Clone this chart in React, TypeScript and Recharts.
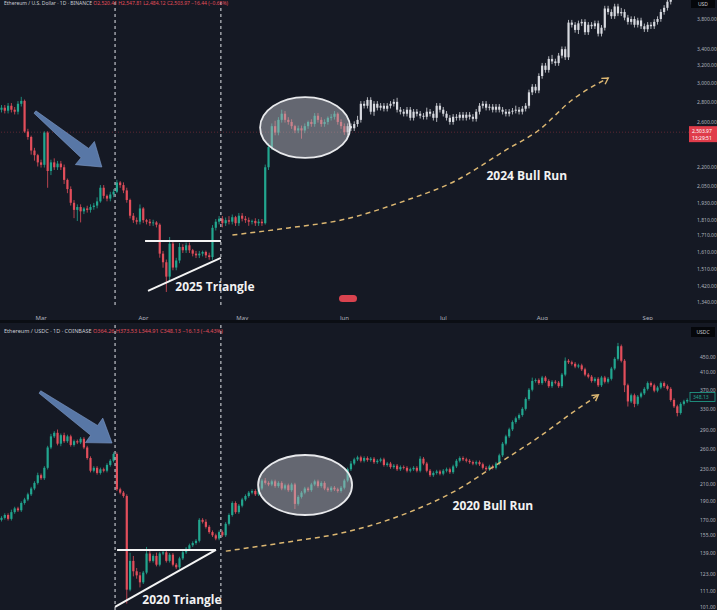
import {
  Bar,
  ComposedChart,
  Line,
  ReferenceArea,
  ReferenceDot,
  ReferenceLine,
  XAxis,
  YAxis,
} from "recharts"

// ---- data ----

const MONTHS = ["Mar", "Apr", "May", "Jun", "Jul", "Aug", "Sep"]
const MONTH_INDEX = [12, 43, 73, 104, 134, 164, 196]

// 2025 daily closes (ETH/USD), red/green candles
const CLOSE_2025 = [
  2740, 2710, 2760, 2720, 2700, 2780, 2810, 2510, 2460, 2340,
  2300, 2240, 2220, 2500, 2170, 2240, 2200, 2230, 2200, 2100,
  2030, 1930, 1880, 1900, 1870, 1890, 1880, 1900, 1910, 1940,
  2040, 1980, 1960, 1990, 2010, 2080, 2060, 2020, 1950, 1840,
  1810, 1800, 1890, 1810, 1800, 1790, 1795, 1780, 1600, 1550,
  1470, 1660, 1520, 1560, 1640, 1620, 1650, 1620, 1600, 1590,
  1600, 1610, 1590, 1580, 1760, 1800, 1820, 1790, 1810, 1800,
  1830, 1790, 1840, 1820, 1810, 1800, 1805, 1790, 1800, 1790,
  2200, 2370, 2560, 2500, 2620, 2680, 2620, 2600, 2560, 2520,
  2540, 2520, 2560, 2600, 2580, 2660, 2620, 2580, 2600, 2640,
  2650, 2680, 2600, 2560, 2504,
]

// 2024 overlay closes (white candles)
const CLOSE_2024 = [
  2560, 2540, 2580, 2620, 2780, 2760, 2820, 2700, 2780, 2740,
  2760, 2730, 2760, 2780, 2800, 2720, 2700, 2680, 2720, 2640,
  2700, 2680, 2660, 2650, 2700, 2680, 2640, 2760, 2720, 2680,
  2640, 2600, 2650, 2640, 2670, 2640, 2670, 2650, 2630, 2700,
  2760, 2780, 2740, 2750, 2720, 2750, 2720, 2700, 2680, 2700,
  2710, 2720, 2700, 2730, 2760, 2900, 2960, 2920, 3080, 3200,
  3150, 3280, 3250, 3230, 3320, 3400, 3300, 3750, 3720, 3650,
  3740, 3760, 3620, 3720, 3700, 3740, 3600, 3680, 3950, 3900,
  3840, 3980, 3880, 3900, 3820, 3760, 3800, 3720, 3780, 3700,
  3660, 3720, 3700, 3760, 3800, 3900, 3960, 4050, 4100,
]

// wick sizes in % beyond the body, top panel
const TOP_WICK_UP = [
  1, 1, 1, 1, 1, 1, 1.5, 0.5, 1, 0.5,
  1, 0.5, 1, 0.5, 0.5, 1, 1.5, 1, 1, 1,
  0.5, 1, 1, 1, 1, 0.5, 1, 1, 1, 1.5,
  1, 1, 0.5, 1, 1, 1, 0.5, 1, 1, 0.5,
  1, 1, 1.5, 0.5, 0.5, 1, 1, 0.5, 0.5, 1,
  1, 2.5, 1, 1, 1.5, 1, 1, 1, 0.5, 1,
  1, 0.5, 0.5, 1, 1, 1, 1, 1, 1, 1.5,
  1, 0.5, 1, 1, 1, 1, 0.5, 1, 1, 1,
  1, 1.5, 1, 2, 1, 1.5, 1, 1, 1, 0.5,
  1, 1, 1, 0.5, 1, 1, 1, 1, 1, 0.5,
  1, 1, 0.5, 1, 1, 1, 1, 1, 1.5, 1,
  1, 1, 1, 1, 1, 1, 1, 1, 1, 1,
  1.5, 1, 1, 1, 1, 1, 1, 1, 1, 1.5,
  1, 1, 1, 1, 1, 1, 1, 1, 1, 1,
  1, 1, 1, 1, 1, 1, 1, 1, 1, 1,
  1, 1, 1, 1, 1, 1, 1.5, 1, 1, 1,
  1, 1, 1, 1, 1, 1, 1, 1.5, 1, 1,
  1, 1, 1, 1, 1, 1, 1, 1, 1, 1,
  1, 1, 1, 1, 1, 1, 1, 1, 1.5, 1,
  1, 1, 1, 1, 1, 1, 1, 1, 1, 1,
  1, 1, 1, 1,
]
const TOP_WICK_DOWN = [
  1, 1, 1, 1, 1, 1, 1, 0.5, 1, 1.5,
  2, 1.5, 1, 1, 6, 1.5, 1, 1, 1, 1.5,
  1.5, 1, 3, 4, 4, 1, 1, 1, 1, 1,
  0.5, 1, 1, 1, 1, 0.5, 1, 1, 1, 1,
  1, 1, 1, 1, 1, 1, 1, 1, 1.5, 2,
  5.5, 2, 1, 1, 1, 1, 1, 1, 1, 1,
  1, 1, 1, 1, 1, 1, 1, 1.5, 1, 1,
  1, 1, 1, 1, 1, 1.5, 1, 1, 1, 1,
  0.5, 1, 1, 1, 1, 1, 1, 1, 1, 1,
  1, 3, 1, 1, 1, 1, 1, 1, 1, 1,
  1, 1, 1, 1, 1, 1, 1, 1, 1, 1,
  1, 1, 1, 1.5, 1, 1, 1, 1, 1, 1,
  1, 1, 1, 1, 1, 1, 1, 1, 1, 1,
  1, 1, 1.5, 1, 1, 1, 1, 1, 1, 1,
  1, 1, 1, 1, 1, 1, 1, 1, 1, 1,
  1, 1, 1, 1, 1, 1, 1, 1, 1, 1,
  1, 1, 1, 1, 1, 1, 1, 1, 1, 1,
  1, 1, 1, 1, 1, 1.5, 1, 1, 1, 1,
  1, 1, 1, 1, 1, 1, 1, 1, 1, 1,
  1, 1, 1, 1, 1, 1, 1, 1, 1, 1,
  1, 1, 1, 1,
]

// 2020 daily closes (ETH/USDC)
const CLOSE_2020 = [
  172, 175, 171, 178, 182, 180, 188, 192, 198, 205,
  212, 222, 218, 232, 262, 280, 286, 268, 282, 272,
  280, 266, 272, 270, 276, 262, 246, 228, 232, 225,
  230, 228, 236, 242, 252, 204, 200, 196, 112, 133,
  125, 122, 117, 124, 139, 133, 137, 130, 139, 140,
  133, 138, 130, 128, 135, 140, 143, 146, 148, 150,
  170, 168, 163, 158, 155, 152, 158, 155, 166, 175,
  188, 178, 185, 192, 196, 200, 202, 198, 205, 215,
  212, 210, 214, 208, 212, 205, 209, 203, 210, 187,
  195, 200, 205, 203, 210, 214, 208, 212, 205, 203,
  206, 204, 202, 206, 215, 230, 238, 244, 247, 242,
  246, 243, 245, 240, 242, 244, 236, 238, 233, 235,
  230, 233, 232, 228, 230, 232, 228, 245, 238, 228,
  222, 225, 227, 224, 228, 230, 226, 234, 242, 246,
  244, 242, 240, 238, 240, 237, 232, 230, 234, 232,
  238, 250, 268, 280, 292, 305, 312, 318, 330, 350,
  370, 390, 392, 385, 398, 390, 378, 388, 386, 378,
  405, 440, 436, 432, 425, 428, 418, 405, 400, 390,
  395, 380, 398, 388, 395, 420, 445, 480, 440, 380,
  345, 358, 340, 355, 362, 372, 385, 380, 368, 375,
  385, 378, 372, 348, 335, 322, 340, 345, 348,
]
const BOT_WICK_UP = [
  1, 1, 1, 1.5, 1, 1, 1, 1, 1, 1,
  1, 1.5, 1, 1, 1, 1.5, 1, 2, 1, 1.5,
  1, 1, 1, 1, 1, 1, 1, 1, 1, 1,
  1, 1, 1, 1, 1, 1, 1, 1, 1, 5,
  3, 2, 2, 1, 4, 2, 1, 2, 1, 1,
  1, 1, 1, 1, 1, 1, 1, 1, 1, 1,
  1, 1, 1.5, 1, 1, 1, 1, 1, 1, 1,
  1, 1, 1, 1, 1, 1, 1, 1, 1, 1,
  1.5, 1, 1, 1, 1, 1, 1, 1, 1, 1,
  1, 1, 1, 1, 1, 1, 1, 1, 1, 1,
  1, 1, 1, 1, 1, 1, 1.5, 1, 1, 1,
  1, 1, 1, 1, 1, 1, 1, 1, 1, 1,
  1, 1, 1, 1, 1, 1, 1, 1.5, 1, 1,
  1, 1, 1, 1, 1, 1, 1, 1, 1, 1,
  1, 1, 1, 1, 1, 1, 1, 1, 1, 1,
  1, 1, 1, 1, 1, 1, 1, 1, 1, 1,
  1, 2, 1, 1, 1, 1, 1, 1, 1, 1,
  1, 2, 1, 1, 1, 1, 1, 1, 1, 1,
  1, 1, 1, 1, 1, 1, 1, 2, 1, 1,
  1, 1, 1, 1, 1, 1, 1, 1, 1, 1,
  1, 1, 1, 1, 1, 1, 1, 1, 1,
]
const BOT_WICK_DOWN = [
  1, 1, 1, 1, 1, 1, 1, 1, 1, 1,
  1, 1, 1, 1, 1, 1, 1, 1, 1.5, 1,
  1, 1, 1, 1, 1, 1, 1, 1, 1, 1,
  1, 1, 1, 1, 1, 1, 1, 1, 8, 1,
  3, 2, 3, 1, 1, 1, 1, 1, 1, 1,
  1, 1, 1, 1, 1, 1, 1, 1, 1, 1,
  1, 1, 1, 1, 1, 1, 1, 1, 1, 1,
  1, 1, 1, 1, 1, 1, 1, 1, 1, 1,
  1, 1, 1, 1, 1, 1, 1, 1, 1, 3,
  1, 1, 1, 1, 1, 1, 1, 1, 1, 1,
  1, 1, 1, 1, 1, 1, 1, 1, 1, 1,
  1, 1, 1, 1, 1, 1, 1, 1, 1, 1,
  1, 1, 1, 1, 1, 1, 1, 1, 1, 1,
  1, 1, 1, 1, 1, 1, 1, 1, 1, 1,
  1, 1, 1, 1, 1, 1, 1, 1, 1, 1,
  1, 1, 1, 1, 1, 1, 1, 1, 1, 1,
  1, 1, 1, 1, 1, 1, 1, 1, 1, 1,
  1, 1, 1, 1, 1, 1, 1, 1, 1, 1,
  1, 1, 1, 1, 1, 1, 1, 1, 1, 4,
  3, 1, 2, 1, 1, 1, 1, 1, 1, 1,
  1, 1, 1, 1, 1, 2, 1, 1, 1,
]

// dashed "bull run" guide curves (candle index / price)
const TREND_TOP_AT = [70, 87, 103, 123, 137, 153, 163, 173, 184]
const TREND_TOP_PRICE = [1714, 1759, 1811, 1950, 2084, 2345, 2524, 2819, 3057]
const TREND_BOT_AT = [68, 87, 103, 123, 138, 151, 163, 173, 181]
const TREND_BOT_PRICE = [141, 149, 157, 177, 203, 239, 279, 322, 359]

const TOP_TICKS = [1340, 1420, 1510, 1610, 1710, 1810, 1930, 2050, 2200, 2600, 2800, 3000, 3200, 3400, 3800]
const BOT_TICKS = [101, 111, 123, 139, 155, 170, 190, 210, 230, 260, 290, 330, 370, 410, 450]

const LAST_2025 = 2503.97
const LAST_2020 = 348.13

// ---- styling ----
const BG = "#151924"
const GREEN = "#22a68f"
const RED = "#e24e5b"
const GHOST = "#d8dae0"
const AXIS = "#aeb2bd"
const TREND = "#dcb772"
const N_SLOTS = 209

type Candle = {
  i: number
  open: number
  close: number
  high: number
  low: number
  range: [number, number]
  ghost: boolean
  trend: number | null
}

function makeCandles(closes: number[], firstOpen: number, up: number[], down: number[], start: number, ghost: boolean): Candle[] {
  return closes.map((c, k) => {
    const o = k === 0 ? firstOpen : closes[k - 1]
    const hi = Math.max(o, c) * (1 + up[k] / 100)
    const lo = Math.min(o, c) * (1 - down[k] / 100)
    return { i: start + k, open: o, close: c, high: hi, low: lo, range: [lo, hi], ghost, trend: null }
  })
}

function withTrend(rows: Candle[], at: number[], prices: number[]) {
  at.forEach((idx, k) => {
    const row = rows.find((r) => r.i === idx)
    if (row) row.trend = prices[k]
  })
  return rows
}

const TOP_DATA = withTrend(
  [
    ...makeCandles(CLOSE_2025, 2720, TOP_WICK_UP.slice(0, 105), TOP_WICK_DOWN.slice(0, 105), 0, false),
    ...makeCandles(CLOSE_2024, LAST_2025, TOP_WICK_UP.slice(105), TOP_WICK_DOWN.slice(105), 105, true),
  ],
  TREND_TOP_AT,
  TREND_TOP_PRICE,
)

const BOT_DATA = withTrend(
  makeCandles(CLOSE_2020, 170, BOT_WICK_UP, BOT_WICK_DOWN, 0, false),
  TREND_BOT_AT,
  TREND_BOT_PRICE,
)

// ---- shapes ----
const CandleShape = (props: any) => {
  const { x, y, width, height, payload } = props
  if (!payload || height == null) return <g />
  const { open, close, high, low, ghost } = payload as Candle
  const lh = Math.log(high)
  const ll = Math.log(low)
  const toY = (v: number) => y + ((lh - Math.log(v)) / (lh - ll)) * height
  const cx = x + width / 2
  const top = toY(Math.max(open, close))
  const bot = toY(Math.min(open, close))
  const color = ghost ? GHOST : close >= open ? GREEN : RED
  return (
    <g>
      <line x1={cx} x2={cx} y1={y} y2={y + height} stroke={color} strokeWidth={0.8} />
      <rect x={cx - 1.1} y={top} width={2.2} height={Math.max(bot - top, 0.8)} fill={color} />
    </g>
  )
}

const ArrowShape = (props: any) => {
  const { x1, y1, x2, y2 } = props
  const dx = x2 - x1
  const dy = y2 - y1
  const L = Math.hypot(dx, dy)
  const ux = dx / L
  const uy = dy / L
  const nx = -uy
  const ny = ux
  const hb = L - 22
  const pt = (s: number, w: number) => `${x1 + ux * s + nx * w},${y1 + uy * s + ny * w}`
  const pts = [pt(0, 1.5), pt(hb, 6), pt(hb, 15), pt(L, 0), pt(hb, -15), pt(hb, -6), pt(0, -1.5)].join(" ")
  return <polygon points={pts} fill="#6284b8" fillOpacity={0.88} stroke="#7d9bc8" strokeWidth={0.6} />
}

const EllipseShape = (props: any) => {
  const { x, y, width, height } = props
  return (
    <ellipse
      cx={x + width / 2}
      cy={y + height / 2}
      rx={width / 2}
      ry={height / 2}
      fill="#b4b6bd"
      fillOpacity={0.5}
      stroke="#e8e9ec"
      strokeWidth={1.8}
    />
  )
}

const arrowHead = (angle: number) => (props: any) => {
  const { cx, cy } = props
  return (
    <path
      d="M -6 -3.5 L 0 0 L -6 3.5"
      transform={`translate(${cx},${cy}) rotate(${angle})`}
      fill="none"
      stroke={TREND}
      strokeWidth={1.4}
    />
  )
}

const textShape = (label: string) => (props: any) => (
  <text
    x={props.cx}
    y={props.cy}
    textAnchor="middle"
    dominantBaseline="central"
    fill="#f2f2f2"
    fontSize={12}
    fontWeight={700}
    fontFamily='"Open Sans", sans-serif'
  >
    {label}
  </text>
)

const topTag = (p: any) => {
  const { viewBox } = p
  const x = viewBox.x + viewBox.width
  const y = viewBox.y
  return (
    <g>
      <rect x={x} y={y - 6} width={28} height={16} fill="#e03c4a" />
      <text x={x + 3} y={y - 1.5} fontSize={5} fill="#fff" dominantBaseline="central">2,503.97</text>
      <text x={x + 3} y={y + 5.5} fontSize={5} fill="#fff" dominantBaseline="central">13:29:51</text>
    </g>
  )
}

const botTag = (p: any) => {
  const { viewBox } = p
  const x = viewBox.x + viewBox.width
  const y = viewBox.y - 3
  return (
    <g>
      <rect x={x + 1} y={y - 4.5} width={25} height={9} fill={BG} stroke={GREEN} strokeWidth={0.8} />
      <text x={x + 4} y={y} fontSize={5} fill={GREEN} dominantBaseline="central">348.13</text>
    </g>
  )
}

const fmtTop = (v: number) => v.toLocaleString("en-US", { minimumFractionDigits: 2, maximumFractionDigits: 2 })
const fmtBot = (v: number) => v.toFixed(2)

const dashLines = [34.4, 66.5]

export default function App() {
  return (
    <div
      style={{
        position: "absolute",
        left: 0,
        top: 0,
        width: 717,
        height: 610,
        overflow: "hidden",
        background: BG,
        fontFamily: '"Noto Sans", sans-serif',
      }}
    >
      <div style={{ position: "absolute", left: 0, top: 0 }}>
        <ComposedChart width={717} height={322} data={TOP_DATA} margin={{ top: 0, right: 0, bottom: 0, left: 0 }}>
          <XAxis
            dataKey="i"
            type="number"
            domain={[-0.5, N_SLOTS - 0.5]}
            ticks={MONTH_INDEX}
            tickFormatter={(v: number) => MONTHS[MONTH_INDEX.indexOf(v)] ?? ""}
            axisLine={false}
            tickLine={false}
            tickMargin={5}
            height={17}
            interval={0}
            tick={{ fill: AXIS, fontSize: 6 }}
          />
          <YAxis
            orientation="right"
            type="number"
            scale="log"
            domain={[1324, 4076]}
            allowDataOverflow
            ticks={TOP_TICKS}
            tickFormatter={fmtTop}
            interval={0}
            width={28}
            axisLine={false}
            tickLine={false}
            tickMargin={2}
            tick={{ fill: AXIS, fontSize: 5 }}
          />
          <ReferenceLine y={LAST_2025} stroke="#e0414f" strokeOpacity={0.6} strokeWidth={0.6} strokeDasharray="1 2" label={topTag} />
          {dashLines.map((x) => (
            <ReferenceLine key={x} x={x} stroke="#cfd2d8" strokeWidth={1.1} strokeDasharray="3 3" />
          ))}
          <Bar dataKey="range" barSize={3} shape={CandleShape} isAnimationActive={false} />
          <ReferenceArea x1={78.4} x2={105.7} y1={2277} y2={2850} shape={EllipseShape} zIndex={450} />
          <ReferenceLine segment={[{ x: 10.1, y: 2697 }, { x: 30.4, y: 2202 }]} shape={ArrowShape} zIndex={450} />
          <ReferenceLine segment={[{ x: 43.5, y: 1677 }, { x: 66.5, y: 1677 }]} stroke="#f4f4f4" strokeWidth={2} />
          <ReferenceLine segment={[{ x: 44.4, y: 1395 }, { x: 66.5, y: 1575 }]} stroke="#f4f4f4" strokeWidth={2} />
          <Line
            dataKey="trend"
            type="monotone"
            connectNulls
            dot={false}
            activeDot={false}
            stroke={TREND}
            strokeWidth={1.5}
            strokeDasharray="5 4"
            isAnimationActive={false}
          />
          <ReferenceDot x={184} y={3057} shape={arrowHead(-33)} />
          <ReferenceDot x={64.7} y={1416} shape={textShape("2025 Triangle")} />
          <ReferenceDot x={159.3} y={2138} shape={textShape("2024 Bull Run")} />
        </ComposedChart>
      </div>

      <div
        style={{
          position: "absolute",
          left: 0,
          top: 0,
          fontSize: 5,
          lineHeight: "7px",
          color: "#c9ccd3",
          whiteSpace: "nowrap",
          paddingLeft: 4,
        }}
      >
        Ethereum / U.S. Dollar · 1D · BINANCE{" "}
        <span style={{ color: RED }}>O2,520.41 H2,547.81 L2,484.12 C2,503.97 −16.44 (−0.65%)</span>
      </div>
      <div style={{ position: "absolute", left: 691, top: 0, width: 24, height: 8, background: "#05070b", color: "#c9ccd3", fontSize: 5, textAlign: "center", lineHeight: "8px" }}>
        USD
      </div>
      <div style={{ position: "absolute", left: 339, top: 295, width: 18, height: 7, background: "#d9434f", borderRadius: 4 }} />

      <div style={{ position: "absolute", left: 0, top: 320, width: 717, height: 3, background: "#0b0e14" }} />

      <div style={{ position: "absolute", left: 0, top: 322 }}>
        <ComposedChart width={717} height={300} data={BOT_DATA} margin={{ top: 0, right: 0, bottom: 0, left: 0 }}>
          <XAxis dataKey="i" type="number" domain={[-0.5, N_SLOTS - 0.5]} hide />
          <YAxis
            orientation="right"
            type="number"
            scale="log"
            domain={[92.3, 554.7]}
            allowDataOverflow
            ticks={BOT_TICKS}
            tickFormatter={fmtBot}
            interval={0}
            width={28}
            axisLine={false}
            tickLine={false}
            tickMargin={5}
            tick={{ fill: AXIS, fontSize: 5 }}
          />
          <ReferenceLine y={LAST_2020} stroke="none" label={botTag} />
          {dashLines.map((x) => (
            <ReferenceLine key={x} x={x} stroke="#cfd2d8" strokeWidth={1.1} strokeDasharray="3 3" />
          ))}
          <Bar dataKey="range" barSize={3} shape={CandleShape} isAnimationActive={false} />
          <ReferenceArea x1={77.8} x2={106.3} y1={175} y2={250.5} shape={EllipseShape} zIndex={450} />
          <ReferenceLine segment={[{ x: 11.6, y: 365 }, { x: 33.5, y: 269 }]} shape={ArrowShape} zIndex={450} />
          <ReferenceLine segment={[{ x: 35, y: 142 }, { x: 65, y: 142 }]} stroke="#f4f4f4" strokeWidth={2} />
          <ReferenceLine segment={[{ x: 34.4, y: 101 }, { x: 65, y: 142 }]} stroke="#f4f4f4" strokeWidth={2} />
          <Line
            dataKey="trend"
            type="monotone"
            connectNulls
            dot={false}
            activeDot={false}
            stroke={TREND}
            strokeWidth={1.5}
            strokeDasharray="5 4"
            isAnimationActive={false}
          />
          <ReferenceDot x={181} y={359} shape={arrowHead(-36)} />
          <ReferenceDot x={54.7} y={105.3} shape={textShape("2020 Triangle")} />
          <ReferenceDot x={149} y={184.7} shape={textShape("2020 Bull Run")} />
        </ComposedChart>
      </div>

      <div
        style={{
          position: "absolute",
          left: 4,
          top: 327,
          fontSize: 5.5,
          color: "#c9ccd3",
          whiteSpace: "nowrap",
        }}
      >
        Ethereum / USDC · 1D · COINBASE{" "}
        <span style={{ color: RED }}>O364.26 H373.53 L344.91 C348.13 −16.13 (−4.43%)</span>
      </div>
      <div style={{ position: "absolute", left: 691, top: 327, width: 24, height: 10, background: "#05070b", color: "#c9ccd3", fontSize: 5, textAlign: "center", lineHeight: "10px" }}>
        USDC
      </div>
    </div>
  )
}
